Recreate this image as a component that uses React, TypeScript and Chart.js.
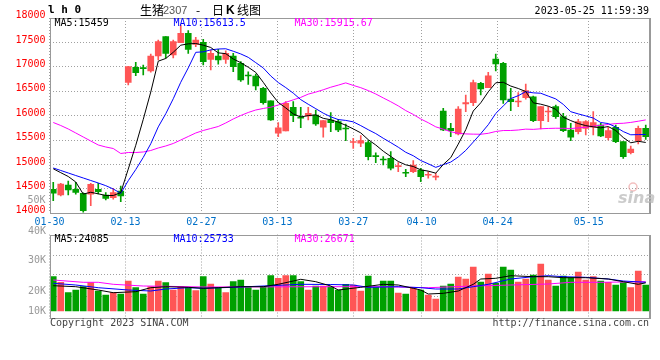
import React, { useEffect, useRef } from 'react';
import { Chart, registerables } from 'chart.js';

Chart.register(...registerables);

const MONO = "'DejaVu Sans Mono', 'Liberation Mono', monospace";
const CJK = "'Noto Sans CJK SC', 'Noto Sans', sans-serif";
const RED = '#ff5555';
const GREEN = '#00a000';
const FRAME = '#999999';
const GRID = '#a0a0a0';
const MA_COLORS = ['#000000', '#0000ff', '#ff00ff'];

// ---------- data ----------
const dateLabels = ['01-30', '02-13', '02-27', '03-13', '03-27', '04-10', '04-24', '05-15'];
const dateTickIdx = [0, 10, 20, 30, 40, 49, 59, 71];
const priceTicks = [14000, 14500, 15000, 15500, 16000, 16500, 17000, 17500, 18000];

const openP = [14492, 14375, 14580, 14492, 14410, 14390, 14492, 14375, 14320, 14457,
  16683, 16990, 16982, 16915, 17222, 17617, 17242, 17494, 17687, 17461,
  17502, 17154, 17222, 17154, 17222, 17072, 16822, 16812, 16560, 16306,
  15639, 15686, 16171, 15958, 15993, 16014, 15762, 15911, 15876, 15740,
  15450, 15434, 15446, 15180, 15100, 15126, 14957, 14830, 14853, 14887,
  14780, 14740, 16095, 15740, 15624, 16239, 16266, 16662, 16573, 17160,
  17072, 16341, 16280, 16368, 16388, 15897, 16075, 16184, 15979, 15706,
  15671, 15741, 15762, 15809, 15548, 15762, 15467, 15242, 15487, 15740];
const highP = [14635, 14615, 14662, 14635, 14420, 14615, 14615, 14422, 14512, 14560,
  17010, 17093, 17037, 17263, 17550, 17617, 17550, 17857, 17740, 17605,
  17564, 17345, 17359, 17330, 17277, 17105, 16900, 16853, 16580, 16306,
  15856, 16286, 16286, 16171, 16171, 16116, 15897, 16061, 15925, 15829,
  15536, 15590, 15487, 15241, 15160, 15262, 15037, 14901, 15078, 14922,
  14853, 14819, 16150, 15843, 16184, 16423, 16730, 16683, 16888, 17263,
  17090, 16560, 16470, 16648, 16400, 16184, 16184, 16218, 16048, 15843,
  15925, 15900, 16081, 15843, 15761, 15809, 15467, 15378, 15788, 15809];
const lowP = [14258, 14355, 14375, 14390, 14021, 14156, 14395, 14273, 14287, 14238,
  16628, 16818, 16832, 16888, 17140, 17175, 17180, 17494, 17277, 17412,
  17037, 16935, 17052, 17072, 16900, 16700, 16642, 16525, 16233, 15900,
  15569, 15686, 15876, 15753, 15911, 15800, 15557, 15671, 15671, 15487,
  15331, 15364, 15092, 15037, 14990, 14887, 14853, 14750, 14832, 14647,
  14717, 14682, 15692, 15569, 15604, 16081, 16204, 16423, 16573, 16915,
  16253, 16102, 16184, 16335, 15876, 15727, 15876, 15945, 15671, 15487,
  15624, 15604, 15604, 15569, 15501, 15446, 15126, 15215, 15419, 15515];
const closeP = [14410, 14600, 14477, 14430, 14053, 14594, 14443, 14307, 14422, 14355,
  17003, 16880, 16962, 17222, 17515, 17277, 17515, 17687, 17359, 17550,
  17105, 17277, 17140, 17277, 17003, 16730, 16812, 16607, 16265, 15911,
  15753, 16253, 16000, 15950, 16048, 15829, 15897, 15856, 15706, 15727,
  15460, 15487, 15160, 15160, 15092, 14922, 14970, 14820, 14990, 14750,
  14790, 14760, 15706, 15692, 16136, 16266, 16675, 16546, 16818, 17058,
  16321, 16286, 16295, 16511, 15897, 16184, 16085, 15979, 15692, 15557,
  15876, 15876, 15856, 15583, 15692, 15467, 15160, 15317, 15740, 15569];

const ma5 = [14912, 14832, 14754, 14641, 14394, 14431, 14399, 14365, 14364, 14424,
  14906, 15393, 15924, 16484, 17116, 17171, 17298, 17443, 17471, 17478,
  17443, 17396, 17286, 17270, 17160, 17085, 16992, 16886, 16683, 16465,
  16270, 16158, 16036, 15973, 16001, 16016, 15945, 15916, 15867, 15803,
  15729, 15647, 15508, 15399, 15272, 15164, 15061, 14993, 14959, 14890,
  14864, 14822, 14999, 15140, 15417, 15712, 16095, 16263, 16488, 16673,
  16684, 16606, 16556, 16494, 16262, 16235, 16194, 16131, 15967, 15899,
  15838, 15796, 15771, 15750, 15777, 15695, 15552, 15444, 15475, 15451];
const ma10 = [14928, 14877, 14826, 14774, 14723, 14672, 14621, 14566, 14498, 14409,
  14668, 14896, 15145, 15424, 15770, 16039, 16346, 16684, 16978, 17297,
  17307, 17347, 17365, 17370, 17319, 17264, 17194, 17086, 16977, 16813,
  16678, 16575, 16461, 16328, 16233, 16143, 16051, 15976, 15920, 15902,
  15873, 15796, 15712, 15633, 15537, 15447, 15354, 15250, 15179, 15081,
  15014, 14941, 14996, 15049, 15154, 15288, 15459, 15631, 15814, 16045,
  16198, 16350, 16409, 16491, 16467, 16459, 16400, 16343, 16231, 16081,
  16036, 15995, 15951, 15859, 15838, 15766, 15674, 15608, 15612, 15614];
const ma30 = [15860, 15798, 15727, 15645, 15563, 15481, 15399, 15358, 15327, 15225,
  15245, 15245, 15256, 15286, 15338, 15379, 15430, 15501, 15573, 15645,
  15696, 15737, 15778, 15850, 15932, 16003, 16065, 16116, 16147, 16173,
  16218, 16273, 16324, 16374, 16441, 16482, 16530, 16582, 16625, 16671,
  16619, 16573, 16513, 16444, 16363, 16285, 16200, 16104, 16025, 15932,
  15855, 15771, 15723, 15670, 15641, 15626, 15621, 15619, 15638, 15676,
  15695, 15696, 15706, 15724, 15719, 15731, 15738, 15742, 15741, 15736,
  15749, 15762, 15786, 15800, 15820, 15838, 15844, 15861, 15886, 15913];

const volume = [27150, 24350, 19150, 20500, 22150, 24150, 20000, 18000, 19150, 18500,
  25000, 21650, 18500, 22150, 25000, 24150, 20500, 22150, 21650, 20150,
  27150, 23500, 21650, 19150, 24650, 25500, 21650, 20500, 22150, 27650,
  26350, 27650, 27650, 24650, 20500, 22500, 22500, 22150, 20500, 23350,
  23000, 20000, 27500, 21850, 25000, 25000, 19000, 18500, 21650, 20500,
  18000, 16000, 22500, 23500, 27000, 26000, 32000, 24500, 28500, 23850,
  32000, 30500, 24500, 26000, 28000, 33500, 25500, 22500, 27500, 26650,
  29500, 25500, 27150, 25000, 24350, 23000, 24150, 21650, 30000, 23000];
const volBase = 10000;

const volMa5Idx = [0, 3, 6, 8, 11, 13, 15, 18, 20, 22, 25, 28, 30, 32, 33, 35, 37, 38, 41, 44, 46, 48, 49, 50, 52, 54, 56, 57, 59, 61, 64, 66, 68, 71, 74, 76, 78, 79];
const volMa5 = [22650, 22150, 20500, 19150, 19650, 21650, 22150, 21850, 21350, 21650, 22150, 22150, 23350, 25000, 25850, 24650, 22500, 20500, 21850, 23350, 23000, 21350, 20500, 18500, 18850, 20000, 23350, 26000, 26350, 27650, 27150, 27150, 26650, 26650, 26000, 24650, 23350, 24085];
const volMa10Idx = [0, 3, 6, 10, 13, 15, 18, 20, 24, 29, 33, 37, 40, 42, 46, 49, 51, 54, 56, 58, 61, 64, 66, 68, 71, 74, 76, 79];
const volMa10 = [23850, 23000, 21650, 20500, 20000, 21000, 21650, 21350, 21850, 22650, 23350, 23250, 23000, 21850, 22150, 21650, 21000, 21000, 22150, 23350, 26000, 27150, 27650, 27150, 26850, 26000, 25000, 24350];
const volMa30Idx = [0, 4, 6, 8, 12, 15, 20, 37, 44, 50, 56, 61, 66, 69, 73, 79];
const volMa30 = [25500, 24350, 24350, 23350, 22500, 22350, 22000, 22150, 22150, 21650, 22500, 23000, 23500, 24350, 24350, 24650];

const volLabelText = ['40K', '30K', '20K', '10K'];
const volLabelAt = [50000, 35500, 20000, 10000];
const volGridAt = [37650, 28000, 17500];
const overlayLabel = { text: '50K', at: 14260 };

const priceHeader = ['MA5:15459', 'MA10:15613.5', 'MA30:15915.67'];
const volHeader = ['MA5:24085', 'MA10:25733', 'MA30:26671'];
const headerDx = [4.5, 123.5, 244.5];

// ---------- helpers ----------
const candleColor = (i: number) => (closeP[i] >= openP[i] ? RED : GREEN);
const colors = closeP.map((_, i) => candleColor(i));
const pts = (arr: number[]) => arr.map((v, i) => ({ x: i + 0.5, y: v }));
const ptsIdx = (idx: number[], arr: number[]) => arr.map((v, k) => ({ x: idx[k] + 0.5, y: v }));

function frame(ctx: CanvasRenderingContext2D, a: any) {
  const L = Math.round(a.left), T = Math.round(a.top), R = Math.floor(a.right), B = Math.floor(a.bottom);
  ctx.fillStyle = FRAME;
  ctx.fillRect(L, T, R - L, 1);
  ctx.fillRect(L, B, R - L, 1);
  ctx.fillRect(L, T, 1, B - T + 1);
  ctx.fillRect(R, T, 2, B - T + 1);
  return { L, T, R, B };
}

const decorA = {
  id: 'decorA',
  afterDraw(chart: any) {
    const { ctx, chartArea, scales } = chart;
    ctx.save();
    const { L, T, R, B } = frame(ctx, chartArea);
    ctx.textBaseline = 'middle';
    ctx.textAlign = 'left';
    ctx.font = `10px ${MONO}`;
    priceHeader.forEach((s, k) => {
      ctx.fillStyle = MA_COLORS[k];
      ctx.fillText(s, L + headerDx[k], T + 5.5);
    });
    // title
    ctx.fillStyle = '#000';
    ctx.font = `bold 11px ${MONO}`;
    ctx.fillText('l h 0', 48, 10.5);
    ctx.font = `12px ${CJK}`;
    ctx.fillText('生猪', 140, 10);
    ctx.fillStyle = '#555';
    ctx.font = "11px 'Liberation Sans', sans-serif";
    ctx.fillText('2307', 163, 10.5);
    ctx.fillStyle = '#000';
    ctx.font = `12px ${CJK}`;
    ctx.fillText('-', 196, 10);
    ctx.fillText('日', 212, 10);
    ctx.font = "bold 12px 'Liberation Sans', sans-serif";
    ctx.fillText('K', 226, 10.5);
    ctx.font = `12px ${CJK}`;
    ctx.fillText('线图', 237, 10);
    ctx.font = `10px ${MONO}`;
    ctx.textAlign = 'right';
    ctx.fillText('2023-05-25 11:59:39', R, 11.5);
    // overlay volume label
    ctx.fillStyle = '#999';
    ctx.fillText(overlayLabel.text, L - 4.5, scales.y.getPixelForValue(overlayLabel.at));
    // watermark
    ctx.textAlign = 'left';
    ctx.strokeStyle = 'rgba(235,150,150,0.6)';
    ctx.lineWidth = 1.5;
    ctx.beginPath();
    ctx.arc(R - 16, B - 26, 4, 0, Math.PI * 2);
    ctx.stroke();
    ctx.fillStyle = 'rgba(190,190,190,0.8)';
    ctx.font = "italic bold 16px 'DejaVu Sans', sans-serif";
    ctx.fillText('sina', R - 31, B - 14);
    ctx.restore();
  },
};

const decorB = {
  id: 'decorB',
  afterDraw(chart: any) {
    const { ctx, chartArea, scales } = chart;
    ctx.save();
    const { L, T, R, B } = frame(ctx, chartArea);
    ctx.textBaseline = 'middle';
    ctx.font = `10px ${MONO}`;
    ctx.textAlign = 'left';
    volHeader.forEach((s, k) => {
      ctx.fillStyle = MA_COLORS[k];
      ctx.fillText(s, L + headerDx[k], T + 4.7);
    });
    ctx.fillStyle = '#999';
    ctx.textAlign = 'right';
    volLabelText.forEach((s, k) => {
      ctx.fillText(s, L - 4, scales.y.getPixelForValue(volLabelAt[k]));
    });
    ctx.fillStyle = '#444';
    ctx.textAlign = 'left';
    ctx.fillText('Copyright 2023 SINA.COM', L, B + 5.5);
    ctx.textAlign = 'right';
    ctx.fillText('http://finance.sina.com.cn', R, B + 5.5);
    ctx.restore();
  },
};

const gridX = (height: number, showLabels: boolean) => ({
  type: 'linear',
  axis: 'x',
  position: 'bottom',
  min: 0,
  max: 79,
  offset: false,
  afterBuildTicks: (s: any) => {
    s.ticks = dateTickIdx.map((v) => ({ value: v }));
  },
  afterFit: (s: any) => {
    s.height = height;
  },
  grid: { color: GRID, drawTicks: false, offset: false },
  border: { display: false, dash: [1, 2] },
  ticks: {
    display: showLabels,
    autoSkip: false,
    maxRotation: 0,
    padding: 3,
    color: '#0070c8',
    font: { family: MONO, size: 10 },
    callback: (_v: any, idx: number) => dateLabels[idx],
  },
});

const hiddenX = { type: 'linear', min: 0, max: 80, display: false, offset: false, grid: { offset: false } };

export default function App() {
  const refA = useRef<HTMLCanvasElement>(null);
  const refB = useRef<HTMLCanvasElement>(null);

  useEffect(() => {
    const lineDs = (label: string, data: any[], color: string) => ({
      type: 'line',
      label,
      data,
      borderColor: color,
      borderWidth: 1,
      pointRadius: 0,
      tension: 0,
      fill: false,
      order: 0,
      xAxisID: 'x',
      yAxisID: 'y',
    });

    const chartA = new Chart(refA.current as HTMLCanvasElement, {
      type: 'bar',
      data: {
        datasets: [
          lineDs('MA5', pts(ma5), MA_COLORS[0]),
          lineDs('MA10', pts(ma10), MA_COLORS[1]),
          lineDs('MA30', pts(ma30), MA_COLORS[2]),
          {
            type: 'bar',
            label: 'body',
            data: openP.map((o, i) => ({ x: i + 0.5, y: [o, closeP[i]] })),
            backgroundColor: colors,
            borderWidth: 0,
            barThickness: 6,
            minBarLength: 1,
            grouped: false,
            order: 1,
            xAxisID: 'x',
            yAxisID: 'y',
          },
          {
            type: 'bar',
            label: 'wick',
            data: lowP.map((l, i) => ({ x: i + 0.5, y: [l, highP[i]] })),
            backgroundColor: colors,
            borderWidth: 0,
            barThickness: 1,
            minBarLength: 1,
            grouped: false,
            order: 2,
            xAxisID: 'x',
            yAxisID: 'y',
          },
        ] as any,
      },
      options: {
        responsive: false,
        animation: false,
        devicePixelRatio: 1,
        events: [],
        layout: { padding: { top: 18, right: 10.5, left: 0, bottom: 0 } },
        plugins: { legend: { display: false }, tooltip: { enabled: false }, title: { display: false } },
        scales: {
          x: hiddenX,
          xg: gridX(232 - 213.3, true),
          y: {
            type: 'linear',
            position: 'left',
            min: 14000,
            max: 18000,
            afterBuildTicks: (s: any) => {
              s.ticks = priceTicks.map((v) => ({ value: v }));
            },
            afterFit: (s: any) => {
              s.width = 49.5;
            },
            grid: { color: GRID, drawTicks: false },
            border: { display: false, dash: [1, 2] },
            ticks: {
              color: '#ff0000',
              font: { family: MONO, size: 10 },
              padding: 4,
              labelOffset: -2.5,
              callback: (v: any) => String(v),
            },
          },
        } as any,
      },
      plugins: [decorA],
    } as any);

    const chartB = new Chart(refB.current as HTMLCanvasElement, {
      type: 'bar',
      data: {
        datasets: [
          lineDs('VMA5', ptsIdx(volMa5Idx, volMa5), MA_COLORS[0]),
          lineDs('VMA10', ptsIdx(volMa10Idx, volMa10), MA_COLORS[1]),
          lineDs('VMA30', ptsIdx(volMa30Idx, volMa30), MA_COLORS[2]),
          {
            type: 'bar',
            label: 'volume',
            data: volume.map((v, i) => ({ x: i + 0.5, y: v })),
            base: volBase,
            backgroundColor: colors,
            borderWidth: 0,
            barThickness: 6,
            grouped: false,
            order: 1,
            xAxisID: 'x',
            yAxisID: 'y',
          },
        ] as any,
      },
      options: {
        responsive: false,
        animation: false,
        devicePixelRatio: 1,
        events: [],
        layout: { padding: { top: 10.5, right: 10.5, left: 0, bottom: 0 } },
        plugins: { legend: { display: false }, tooltip: { enabled: false }, title: { display: false } },
        scales: {
          x: hiddenX,
          xg: gridX(136 - 94.5, false),
          y: {
            type: 'linear',
            position: 'left',
            min: 6250,
            max: 48250,
            afterBuildTicks: (s: any) => {
              s.ticks = volGridAt.map((v) => ({ value: v }));
            },
            afterFit: (s: any) => {
              s.width = 49.5;
            },
            grid: { color: GRID, drawTicks: false },
            border: { display: false, dash: [1, 2] },
            ticks: { display: false },
          },
        } as any,
      },
      plugins: [decorB],
    } as any);

    return () => {
      chartA.destroy();
      chartB.destroy();
    };
  }, []);

  return (
    <div style={{ position: 'fixed', left: 0, top: 0, width: 660, height: 360, background: '#fff' }}>
      <canvas ref={refA} width={660} height={232} style={{ position: 'absolute', left: 0, top: 0 }} />
      <canvas ref={refB} width={660} height={136} style={{ position: 'absolute', left: 0, top: 224 }} />
    </div>
  );
}
